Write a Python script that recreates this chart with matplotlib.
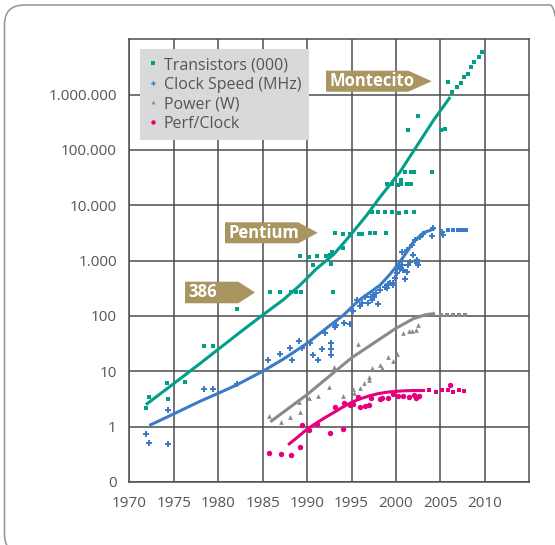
import matplotlib.pyplot as plt
from matplotlib.lines import Line2D
from matplotlib.patches import Polygon, FancyBboxPatch

plt.rcParams['font.family'] = ['Open Sans', 'DejaVu Sans']

# --- data ---
# Transistors (000)
trans_years = [1971.9, 1972.2, 1974.25, 1974.35, 1976.3, 1978.4, 1979.4, 1982.1,
               1985.8, 1987.0, 1988.2, 1988.8, 1989.3, 1992.9,
               1989.2, 1990.2, 1991.1, 1992.1, 1992.6, 1990.7, 1992.7, 1992.8, 1994.0,
               1993.15, 1994.0, 1994.85, 1995.8, 1996.15, 1997.1, 1997.65, 1998.9,
               1997.3, 1998.0, 1998.8, 1999.5, 2000.3, 2001.1, 2002.0,
               1999.0, 1999.6, 2000.2, 2000.6, 2001.2, 2001.7, 2000.6,
               2001.07, 2001.7, 2002.07, 2004.0,
               2001.4, 2002.5, 2005.07, 2005.5,
               2005.8, 2006.35, 2006.85, 2007.3, 2007.6, 2008.1, 2008.4, 2008.8, 2009.3, 2009.65]
trans_vals = [2.2, 3.5, 6.2, 3.1, 6.5, 29, 29, 132,
              275, 275, 275, 275, 275, 275,
              1210, 1180, 1200, 1220, 1250, 850, 870, 1450, 1660,
              3120, 3050, 3050, 3050, 3050, 3120, 3120, 3120,
              7650, 7650, 7650, 7500, 7400, 7650, 7650,
              24300, 24300, 23500, 24300, 23800, 24300, 29000,
              40000, 40000, 40000, 40000,
              229000, 417000, 229000, 235000,
              1.69e6, 1.1e6, 1.38e6, 1.62e6, 2.1e6, 2.33e6, 3.17e6, 3.86e6, 4.7e6, 5.95e6]
trans_fit_years = [1972.0, 1975, 1978, 1980, 1982.8, 1985, 1987.3, 1989.2, 1991, 1993,
                   1994.8, 1996.7, 1998.2, 2000.45, 2002.3, 2004.2, 2006.0]
trans_fit_vals = [2.6, 6.0, 14, 25, 56, 104, 195, 360, 700, 1300,
                  2800, 6600, 14000, 40000, 115000, 340000, 860000]

# Clock speed (MHz)
clock_years = [1971.9, 1972.26, 1974.3, 1974.3, 1978.4, 1979.4, 1982.1, 1985.65, 1986.95,
               1988.1, 1988.35, 1989.14, 1989.4, 1990.3, 1990.7, 1991.2, 1991.7, 1992.0,
               1992.65, 1992.65, 1992.65, 1993.1, 1993.2, 1994.1, 1994.8, 1995.2, 1995.6,
               1995.9, 1996.15, 1996.5, 1996.9, 1997.15, 1997.27, 1997.46, 1997.5, 1997.8,
               1998.0, 1998.2, 1998.8, 1998.95, 1999.15, 1999.3, 1999.7, 1999.7, 1999.9,
               2000.1, 2000.3, 2000.5, 2000.65, 2000.65, 2000.8, 2001.0, 2001.2, 2001.2,
               2001.4, 2001.6, 2001.8, 2001.96, 2002.15, 2002.4, 2002.4, 2002.5, 2002.7,
               2003.0, 2004.0, 2004.2, 2005.15, 2005.3]
clock_vals = [0.74, 0.51, 0.48, 2.0, 4.85, 4.85, 5.9, 15.9, 20.6,
              26, 15.9, 35, 26, 33, 20, 16, 25.7, 49,
              33, 25.5, 19.8, 64, 70, 76, 73, 122, 195,
              153, 169, 224, 172, 217, 195, 239, 224, 257,
              166, 295, 339, 316, 380, 390, 400, 363, 480,
              590, 780, 720, 1450, 830, 680, 466, 630, 1550,
              830, 955, 1900, 1250, 2350, 1020, 890, 830, 2650,
              3000, 2800, 3840, 3340, 2900]
clock_proj_years = [2005.9, 2006.45, 2007.0, 2007.45, 2007.9]
clock_proj_vals = [3580, 3580, 3580, 3580, 3580]
clock_fit_years = [1972.4, 1975, 1978, 1980, 1982, 1985, 1987.3, 1990, 1992.6, 1994.1,
                   1995.8, 1998.2, 1999.3, 2000.45, 2002, 2003.1, 2004.2]
clock_fit_vals = [1.08, 1.7, 2.9, 4.0, 5.6, 10, 16.5, 32, 68, 104,
                  190, 360, 560, 950, 2200, 3200, 3700]

# Power (W)
power_years = [1985.72, 1987.07, 1988.1, 1989.06, 1989.2, 1990.2, 1991.26, 1992.5, 1993.06,
               1994.07, 1995.13, 1995.28, 1995.95, 1995.73, 1996.4, 1996.93, 1996.97, 1997.27,
               1998.2, 1998.4, 1999.1, 1999.7, 2000.16, 2000.76, 2001.47, 2001.8, 2002.2,
               2002.5, 2004.2]
power_vals = [1.56, 1.21, 1.48, 2.8, 1.86, 3.3, 3.6, 5.3, 11.8,
              3.6, 4.85, 4.0, 5.0, 31, 6.2, 7.8, 6.9, 11.4,
              13, 11.4, 18.4, 15.6, 20.5, 50, 53, 53, 56,
              69, 115]
power_proj_years = [2005.1, 2005.75, 2006.4, 2007.05, 2007.8]
power_proj_vals = [105, 105, 105, 105, 105]
power_fit_years = [1986.0, 1990, 1995, 2000, 2002, 2003.3, 2004.2]
power_fit_vals = [1.27, 3.8, 17.5, 60, 90, 105, 110]

# Perf/Clock
perf_years = [1985.72, 1987.03, 1988.2, 1989.25, 1989.4, 1990.26, 1991.08, 1992.58, 1994.0,
              1993.14, 1994.1, 1994.85, 1995.2, 1995.73, 1995.96, 1996.5, 1996.95, 1997.2,
              1998.2, 1998.4, 1999.1, 1999.7, 2000.2, 2000.8, 2001.5, 2002.0, 2002.2,
              2002.6, 2006.1]
perf_vals = [0.334, 0.32, 0.31, 0.435, 1.07, 0.87, 1.1, 0.78, 0.92,
             2.3, 2.64, 2.5, 2.6, 3.4, 2.3, 2.36, 2.45, 3.25,
             3.1, 3.25, 3.3, 3.85, 3.6, 3.6, 3.4, 3.8, 3.25,
             3.6, 5.66]
perf_proj_years = [2003.7, 2004.5, 2005.15, 2005.8, 2006.4, 2007.05, 2007.7]
perf_proj_vals = [4.6, 4.2, 4.6, 4.6, 4.2, 4.66, 4.5]
perf_fit_years = [1988, 1989, 1990, 1991, 1992, 1993, 1994, 1995, 1996, 1997,
                  1998, 1999, 2000, 2001, 2002, 2003.1]
perf_fit_vals = [0.49, 0.66, 0.90, 1.15, 1.45, 1.8, 2.25, 2.75, 3.2, 3.6,
                 3.95, 4.2, 4.35, 4.45, 4.5, 4.5]

y_ticks = [0.1, 1, 10, 100, 1e3, 1e4, 1e5, 1e6]
y_labels = ['0', '1', '10', '100', '1.000', '10.000', '100.000', '1.000.000']
x_ticks = list(range(1970, 2011, 5))

teal = '#00A088'
blue = '#3B7BC8'
gray = '#8A8A8A'
magenta = '#E6007E'
tag_color = '#A8955F'
text_gray = '#555555'
grid_gray = '#4d4d4d'

fig = plt.figure(figsize=(5.55, 5.45), dpi=100)

# rounded frame around the whole graphic (right and bottom run just past the canvas)
frame = FancyBboxPatch((0.0081, -0.016), 1.019, 1.0068,
                       boxstyle='round,pad=0,rounding_size=0.036',
                       transform=fig.transFigure, facecolor='none',
                       edgecolor='#9a9a9a', linewidth=1.2, zorder=-1)
fig.patches.append(frame)

ax = fig.add_axes([0.233, 0.1156, 0.7207, 0.8123])
ax.set_yscale('log')
ax.set_xlim(1970, 2015)
ax.set_ylim(0.1, 1e7)
ax.set_xticks(x_ticks)
ax.set_yticks(y_ticks)
ax.set_yticklabels(y_labels)
ax.minorticks_off()
ax.tick_params(length=0, labelsize=11, labelcolor=text_gray)
ax.tick_params(axis='x', pad=10)
ax.tick_params(axis='y', pad=9)
ax.grid(True, color=grid_gray, linewidth=1.1)
ax.set_axisbelow(True)
for s in ax.spines.values():
    s.set_color(grid_gray)
    s.set_linewidth(1.1)

# trend lines
ax.plot(trans_fit_years, trans_fit_vals, color=teal, lw=2.2, zorder=3)
ax.plot(clock_fit_years, clock_fit_vals, color=blue, lw=2.2, zorder=3)
ax.plot(power_fit_years, power_fit_vals, color=gray, lw=2.2, zorder=3)
ax.plot(perf_fit_years, perf_fit_vals, color=magenta, lw=2.2, zorder=3)

# measured points
ax.plot(trans_years, trans_vals, 's', color=teal, ms=3.2, mew=0, zorder=4)
ax.plot(clock_years, clock_vals, 'P', color=blue, ms=4.2, mew=0, zorder=4)
ax.plot(clock_proj_years, clock_proj_vals, 's', color=blue, ms=3.2, mew=0, zorder=4)
ax.plot(power_years, power_vals, '^', color=gray, ms=3.4, mew=0, zorder=4)
ax.plot(power_proj_years, power_proj_vals, 's', color=gray, ms=3.2, mew=0, zorder=4)
ax.plot(perf_years, perf_vals, 'o', color=magenta, ms=3.9, mew=0, zorder=4)
ax.plot(perf_proj_years, perf_proj_vals, 's', color=magenta, ms=3.2, mew=0, zorder=4)

# legend
handles = [
    Line2D([], [], ls='none', marker='s', color=teal, ms=2.8, mew=0),
    Line2D([], [], ls='none', marker='P', color=blue, ms=3.2, mew=0),
    Line2D([], [], ls='none', marker='^', color=gray, ms=2.8, mew=0),
    Line2D([], [], ls='none', marker='o', color=magenta, ms=3.2, mew=0),
]
labels = ['Transistors (000)', 'Clock Speed (MHz)', 'Power (W)', 'Perf/Clock']
leg = ax.legend(handles, labels, loc='upper left', bbox_to_anchor=(0.0268, 0.978),
                borderaxespad=0, frameon=True, fancybox=False, facecolor='#D9D9D9',
                edgecolor='none', framealpha=1, fontsize=11.5, borderpad=0.5,
                handlelength=0.6, handletextpad=0.4, labelspacing=0.22)
for t in leg.get_texts():
    t.set_color(text_gray)
leg.set_zorder(6)


def tag(x0, x1, xtip, y0, y1, label):
    ym = (y0 + y1) / 2
    poly = Polygon([(x0, y1), (x1, y1), (xtip, ym), (x1, y0), (x0, y0)],
                   closed=True, transform=ax.transAxes, facecolor=tag_color,
                   edgecolor='none', zorder=7, clip_on=False)
    ax.add_patch(poly)
    ax.text(x0 + 0.009, ym, label, transform=ax.transAxes, ha='left', va='center',
            color='white', fontsize=12, fontweight='bold', zorder=8)


tag(0.4918, 0.6975, 0.756, 0.8816, 0.9291, 'Montecito')
tag(0.2393, 0.4225, 0.471, 0.5392, 0.5866, 'Pentium')
tag(0.1393, 0.2725, 0.3143, 0.4037, 0.4525, '386')

fig.savefig('out.png', dpi=100)
